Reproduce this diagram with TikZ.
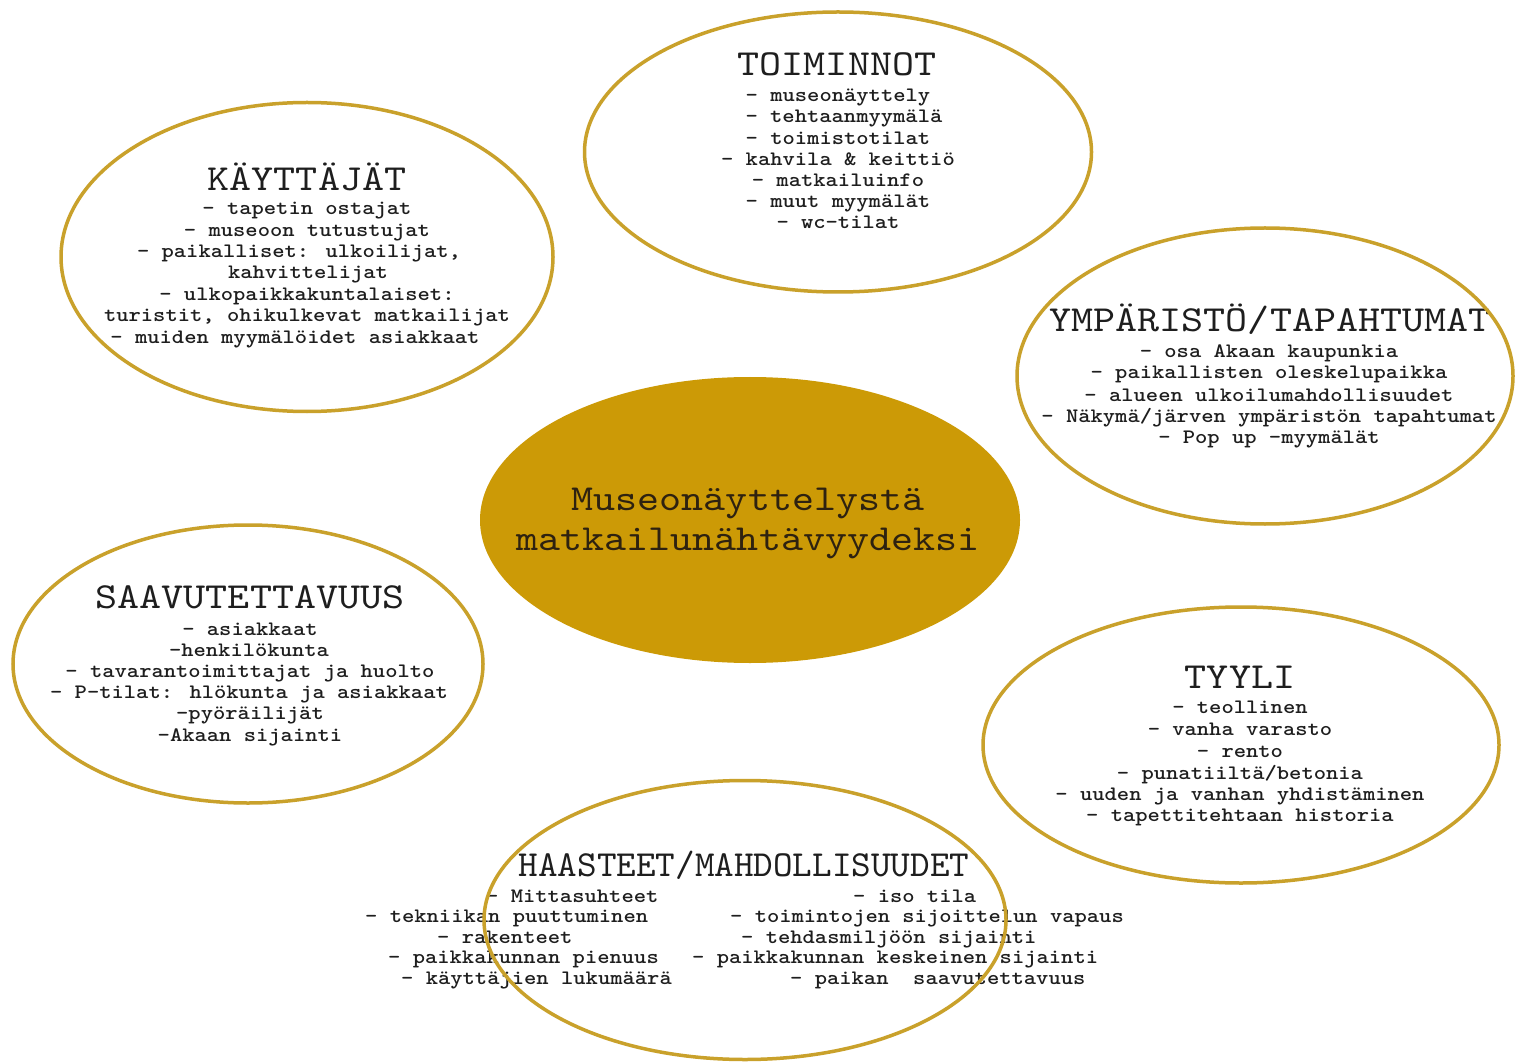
\documentclass[tikz,border=0pt]{standalone}
\usepackage{fontspec}
\newfontfamily\mono{lmmono10-regular.otf}[FakeStretch=1.143, BoldFont=lmmonolt10-bold.otf]
\newfontfamily\narrowmono{lmmono10-regular.otf}[FakeStretch=1.017]
\usetikzlibrary{shapes.geometric}
\definecolor{gold}{HTML}{C9A12B}
\definecolor{goldfill}{HTML}{CC9A06}
\definecolor{ink}{HTML}{1E1E1E}
\definecolor{brownink}{HTML}{2E2210}
\tikzset{
  bubble/.style={ellipse, draw=gold, line width=3.5pt, inner sep=0pt},
  hub/.style={ellipse, fill=goldfill, draw=none, inner sep=0pt},
  body/.style={font=\mono\bfseries\fontsize{20.5}{21}\selectfont, text=ink, anchor=base, inner sep=0pt},
  bodyw/.style={body, anchor=base west},
  heading/.style={font=\mono\fontsize{36.7}{40}\selectfont, text=ink, anchor=base, inner sep=0pt},
  narrowheading/.style={font=\narrowmono\fontsize{36.7}{40}\selectfont, text=ink, anchor=base, inner sep=0pt},
  hubtext/.style={font=\mono\fontsize{36.7}{40}\selectfont, text=brownink, anchor=base, inner sep=0pt}
}
\begin{document}
\begin{tikzpicture}[x=1pt,y=-1pt]
\useasboundingbox (0,0) rectangle (1515,1064);
\fill[white] (0,0) rectangle (1515,1064);

% central hub
\node[hub, minimum width=540pt, minimum height=286pt] (hub) at (750,520) {};
\node[hubtext] (hub1) at (748,510) {Museonäyttelystä};
\node[hubtext] (hub2) at (748,550) {matkailunähtävyydeksi};

% TOIMINNOT
\node[heading] (toimT) at (837,76) {TOIMINNOT};
\node[body] (toim1) at (838,102) {- museonäyttely};
\node[body] (toim2) at (844,123) {- tehtaanmyymälä};
\node[body] (toim3) at (838,145) {- toimistotilat};
\node[body] (toim4) at (838,166) {- kahvila \& keittiö};
\node[body] (toim5) at (838,187) {- matkailuinfo};
\node[body] (toim6) at (838,208) {- muut myymälät};
\node[body] (toim7) at (838,229) {- wc-tilat};

% KÄYTTÄJÄT
\node[heading] (kayT) at (307,191) {KÄYTTÄJÄT};
\node[body] (kay1) at (307,215) {- tapetin ostajat};
\node[body] (kay2) at (307,237) {- museoon tutustujat};
\node[body] (kay3) at (299,258) {- paikalliset: ulkoilijat,};
\node[body] (kay4) at (308,279) {kahvittelijat};
\node[body] (kay5) at (307,301) {- ulkopaikkakuntalaiset:};
\node[body] (kay6) at (307,322) {turistit, ohikulkevat matkailijat};
\node[body] (kay7) at (295,344) {- muiden myymälöidet asiakkaat};

% YMPÄRISTÖ/TAPAHTUMAT
\node[heading] (ympT) at (1270,332) {YMPÄRISTÖ/TAPAHTUMAT};
\node[body] (ymp1) at (1269,358) {- osa Akaan kaupunkia};
\node[body] (ymp2) at (1269,379) {- paikallisten oleskelupaikka};
\node[body] (ymp3) at (1269,401) {- alueen ulkoilumahdollisuudet};
\node[body] (ymp4) at (1269,422) {- Näkymä/järven ympäristön tapahtumat};
\node[body] (ymp5) at (1269,443) {- Pop up -myymälät};

% SAAVUTETTAVUUS
\node[heading] (saaT) at (250,608) {SAAVUTETTAVUUS};
\node[body] (saa1) at (250,635) {- asiakkaat};
\node[body] (saa2) at (249,656) {-henkilökunta};
\node[body] (saa3) at (250,677) {- tavarantoimittajat ja huolto};
\node[body] (saa4) at (249,698) {- P-tilat: hlökunta ja asiakkaat};
\node[body] (saa5) at (250,719) {-pyöräilijät};
\node[body] (saa6) at (250,741) {-Akaan sijainti};

% TYYLI
\node[heading] (tyyT) at (1240,688) {TYYLI};
\node[body] (tyy1) at (1240,713) {- teollinen};
\node[body] (tyy2) at (1240,735) {- vanha varasto};
\node[body] (tyy3) at (1240,757) {- rento};
\node[body] (tyy4) at (1240,779) {- punatiiltä/betonia};
\node[body] (tyy5) at (1240,800) {- uuden ja vanhan yhdistäminen};
\node[body] (tyy6) at (1240,821) {- tapettitehtaan historia};

% HAASTEET/MAHDOLLISUUDET
\node[narrowheading] (haaT) at (744,876) {HAASTEET/MAHDOLLISUUDET};
\node[bodyw] (haaL1) at (486,902) {- Mittasuhteet};
\node[bodyw] (haaL2) at (365,922) {- tekniikan puuttuminen};
\node[bodyw] (haaL3) at (437,943) {- rakenteet};
\node[bodyw] (haaL4) at (388,963) {- paikkakunnan pienuus};
\node[bodyw] (haaL5) at (401,984) {- käyttäjien lukumäärä};
\node[bodyw] (haaR1) at (853,902) {- iso tila};
\node[bodyw] (haaR2) at (730,922) {- toimintojen sijoittelun vapaus};
\node[bodyw] (haaR3) at (741,943) {- tehdasmiljöön sijainti};
\node[bodyw] (haaR4) at (692,963) {- paikkakunnan keskeinen sijainti};
\node[bodyw] (haaR5) at (790,984) {- paikan\ \ saavutettavuus};

% outlined bubbles
\node[bubble, minimum width=507pt, minimum height=280pt] (toim) at (838,152) {};
\node[bubble, minimum width=492pt, minimum height=309pt] (kay) at (307,257) {};
\node[bubble, minimum width=496pt, minimum height=296pt] (ymp) at (1265,376) {};
\node[bubble, minimum width=470pt, minimum height=278pt] (saa) at (248,664) {};
\node[bubble, minimum width=516pt, minimum height=276pt] (tyy) at (1241,745) {};
\node[bubble, minimum width=522pt, minimum height=279pt] (haa) at (745,920) {};
\end{tikzpicture}
\end{document}
